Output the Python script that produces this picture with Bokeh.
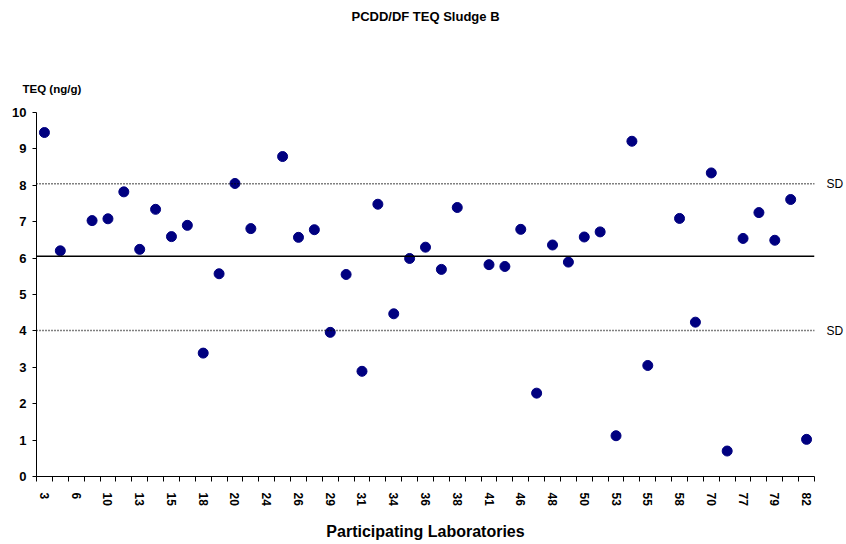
from bokeh.plotting import figure
from bokeh.models import Range1d, FixedTicker, Span, Title, LinearAxis
from bokeh.embed import file_html
from bokeh.resources import INLINE

# Laboratory codes (every other one is labelled on the axis)
labs = ["3", "4", "6", "8", "10", "11", "13", "14", "15", "17", "18", "19", "20", "22",
        "24", "25", "26", "27", "29", "30", "31", "32", "34", "35", "36", "37", "38", "40",
        "41", "44", "46", "47", "48", "49", "50", "52", "53", "54", "55", "57", "58", "59",
        "70", "76", "77", "78", "79", "81", "82"]
# TEQ results (ng/g); None = no result reported
teq = [9.45, 6.20, None, 7.03, 7.08, 7.82, 6.24, 7.34, 6.59, 6.90, 3.39, 5.57, 8.05, 6.81,
       None, 8.79, 6.57, 6.78, 3.96, 5.55, 2.89, 7.48, 4.47, 5.99, 6.30, 5.69, 7.39, None,
       5.82, 5.77, 6.79, 2.29, 6.36, 5.89, 6.58, 6.72, 1.12, 9.21, 3.05, None, 7.09, 4.24,
       8.34, 0.70, 6.54, 7.25, 6.49, 7.61, 1.02]
mean_teq = 6.05
sd_upper = 8.04
sd_lower = 4.01
y_ticks = [0, 1, 2, 3, 4, 5, 6, 7, 8, 9, 10]

idx = list(range(len(labs)))
xs = [i for i, v in zip(idx, teq) if v is not None]
ys = [v for v in teq if v is not None]

FONT = "Liberation Sans"

p = figure(width=846, height=544, output_backend="svg", toolbar_location=None,
           x_range=Range1d(-0.5, len(labs) - 0.5), y_range=Range1d(0, 10),
           min_border_left=36, min_border_right=26, min_border_top=112, min_border_bottom=68)
p.title = None
p.outline_line_color = None
p.xgrid.visible = False
p.ygrid.visible = False

# x axis: labels at even categories, tick marks at category boundaries
p.xaxis.ticker = FixedTicker(ticks=idx[::2],
                             minor_ticks=[i - 0.5 for i in idx] + [len(labs) - 0.5])
p.xaxis.major_label_overrides = {i: labs[i] for i in idx[::2]}
p.xaxis.major_label_orientation = "vertical"
p.xaxis.major_tick_out = 0
p.xaxis.major_tick_in = 0
p.xaxis.minor_tick_out = 5
p.xaxis.minor_tick_in = 0
p.xaxis.minor_tick_line_color = "black"
p.xaxis.axis_line_color = "black"
p.xaxis.major_label_text_font = FONT
p.xaxis.major_label_text_font_style = "bold"
p.xaxis.major_label_text_font_size = "12px"
p.xaxis.major_label_text_color = "black"
p.xaxis.major_label_standoff = 11
p.xaxis.axis_label = "Participating Laboratories"
p.xaxis.axis_label_text_font = FONT
p.xaxis.axis_label_text_font_style = "bold"
p.xaxis.axis_label_text_font_size = "16px"
p.xaxis.axis_label_text_color = "black"
p.xaxis.axis_label_standoff = 14

p.yaxis.ticker = FixedTicker(ticks=y_ticks)
p.yaxis.minor_tick_line_color = None
p.yaxis.major_tick_out = 4
p.yaxis.major_tick_in = 0
p.yaxis.major_tick_line_color = "black"
p.yaxis.axis_line_color = "black"
p.yaxis.major_label_text_font = FONT
p.yaxis.major_label_text_font_style = "bold"
p.yaxis.major_label_text_font_size = "13px"
p.yaxis.major_label_text_color = "black"
p.yaxis.major_label_standoff = 6

# mean and SD reference lines
p.add_layout(Span(location=mean_teq, dimension="width", line_color="black", line_width=1.6))
for v in (sd_upper, sd_lower):
    p.add_layout(Span(location=v, dimension="width", line_color="black",
                      line_width=1.5, line_dash="1 2"))

# "SD" captions at the right end of the SD lines
sd_axis = LinearAxis(ticker=FixedTicker(ticks=[sd_upper, sd_lower]),
                     major_label_overrides={sd_upper: "SD", sd_lower: "SD"},
                     axis_line_color=None, major_tick_line_color=None,
                     minor_tick_line_color=None, major_label_standoff=6,
                     major_label_text_font=FONT, major_label_text_font_size="12px",
                     major_label_text_color="black")
p.add_layout(sd_axis, "right")

p.scatter(xs, ys, size=10, color="#000080", marker="circle")

# y-axis caption (nearest the frame)
p.add_layout(Title(text="TEQ (ng/g)", align="left", offset=-14, standoff=36,
                   text_font=FONT, text_font_style="bold", text_font_size="11.5px",
                   text_color="black"), "above")
# chart title, carried by a bare axis above the caption
title_axis = LinearAxis(ticker=FixedTicker(ticks=[]), axis_line_color=None,
                        major_tick_line_color=None, minor_tick_line_color=None,
                        major_label_standoff=0, major_tick_out=0, major_tick_in=0,
                        axis_label="PCDD/DF TEQ Sludge B", axis_label_standoff=39,
                        axis_label_text_font=FONT, axis_label_text_font_style="bold",
                        axis_label_text_font_size="13px", axis_label_text_color="black")
p.add_layout(title_axis, "above")

open("out.html", "w").write(file_html(p, INLINE))
